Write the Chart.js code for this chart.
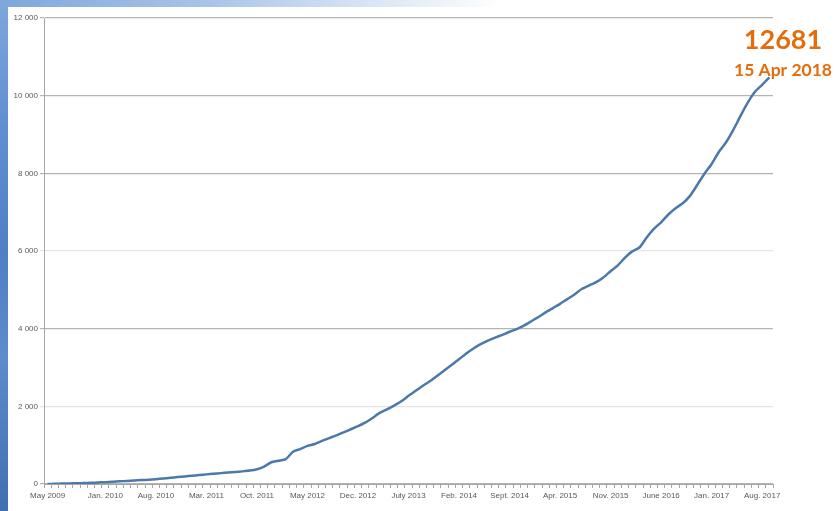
<!DOCTYPE html>
<html>
<head>
<meta charset="utf-8">
<script src="https://cdn.jsdelivr.net/npm/chart.js@4/dist/chart.umd.min.js"></script>
<style>
  html, body { margin: 0; padding: 0; }
  body { width: 837px; height: 511px; position: relative; overflow: hidden; background: #ffffff; }
  #leftStrip { position: absolute; left: 0; top: 0; width: 8px; height: 511px;
    background: linear-gradient(180deg, #7fa7dc 0%, #5f8fd0 25%, #4f80c4 50%, #5d8ccb 70%, #3f6fae 100%); }
  #topStrip { position: absolute; left: 0; top: 0; width: 837px; height: 7px;
    background: linear-gradient(90deg, #7fa7dc 0%, #a9c4e8 25%, #dbe6f5 45%, #ffffff 60%); }
  #chart { position: absolute; left: 0; top: 0; }
</style>
</head>
<body>
<div id="leftStrip"></div>
<div id="topStrip"></div>
<canvas id="chart" width="837" height="511"></canvas>
<script>
// Monthly categories, May 2009 to Sept. 2017
const categories = [
  'May 2009','June 2009','July 2009','Aug. 2009','Sept. 2009','Oct. 2009','Nov. 2009','Dec. 2009',
  'Jan. 2010','Feb. 2010','Mar. 2010','Apr. 2010','May 2010','June 2010','July 2010','Aug. 2010','Sept. 2010','Oct. 2010','Nov. 2010','Dec. 2010',
  'Jan. 2011','Feb. 2011','Mar. 2011','Apr. 2011','May 2011','June 2011','July 2011','Aug. 2011','Sept. 2011','Oct. 2011','Nov. 2011','Dec. 2011',
  'Jan. 2012','Feb. 2012','Mar. 2012','Apr. 2012','May 2012','June 2012','July 2012','Aug. 2012','Sept. 2012','Oct. 2012','Nov. 2012','Dec. 2012',
  'Jan. 2013','Feb. 2013','Mar. 2013','Apr. 2013','May 2013','June 2013','July 2013','Aug. 2013','Sept. 2013','Oct. 2013','Nov. 2013','Dec. 2013',
  'Jan. 2014','Feb. 2014','Mar. 2014','Apr. 2014','May 2014','June 2014','July 2014','Aug. 2014','Sept. 2014','Oct. 2014','Nov. 2014','Dec. 2014',
  'Jan. 2015','Feb. 2015','Mar. 2015','Apr. 2015','May 2015','June 2015','July 2015','Aug. 2015','Sept. 2015','Oct. 2015','Nov. 2015','Dec. 2015',
  'Jan. 2016','Feb. 2016','Mar. 2016','Apr. 2016','May 2016','June 2016','July 2016','Aug. 2016','Sept. 2016','Oct. 2016','Nov. 2016','Dec. 2016',
  'Jan. 2017','Feb. 2017','Mar. 2017','Apr. 2017','May 2017','June 2017','July 2017','Aug. 2017','Sept. 2017'
];

// Cumulative count
const cumulative = [
  0, 5, 10, 15, 20, 25, 30, 38,
  48, 58, 68, 80, 90, 100, 112, 125, 140, 160, 180, 195, 212, 230,
  248, 265, 280, 295, 310, 325, 345, 380, 450, 560, 600, 640, 830, 900,
  980, 1030, 1110, 1180, 1250, 1330, 1410, 1490, 1580, 1700, 1830, 1920,
  2020, 2130, 2270, 2400, 2530, 2650, 2790, 2930, 3070, 3210, 3360, 3490,
  3600, 3690, 3770, 3840, 3920, 3990, 4080, 4190, 4300, 4420, 4530, 4640,
  4760, 4880, 5020, 5110, 5200, 5320, 5480, 5630, 5830, 5990, 6090, 6350,
  6570, 6740, 6940, 7100, 7230, 7420, 7700, 7990, 8240, 8550, 8800, 9120,
  9480, 9820, 10100, 10280, 10470
];

// Category labels printed under the axis
const shownLabels = [
  'May 2009','Jan. 2010','Aug. 2010','Mar. 2011','Oct. 2011','May 2012','Dec. 2012',
  'July 2013','Feb. 2014','Sept. 2014','Apr. 2015','Nov. 2015','June 2016','Jan. 2017','Aug. 2017'
];

const yTicks = [0, 2000, 4000, 6000, 8000, 10000, 12000];
const lightGrid = [2000, 6000];

const annotationValue = '12681';
const annotationDate = '15 Apr 2018';

const annotationPlugin = {
  id: 'annotation',
  afterDraw(chart) {
    const ctx = chart.ctx;
    ctx.save();
    ctx.fillStyle = '#e46c0a';
    ctx.textAlign = 'center';
    ctx.textBaseline = 'middle';
    ctx.font = 'bold 27px Lato, "Open Sans", sans-serif';
    ctx.fillText(annotationValue, 783, 40);
    ctx.font = 'bold 17.5px Lato, "Open Sans", sans-serif';
    ctx.fillText(annotationDate, 783, 70);
    ctx.restore();
  }
};

new Chart(document.getElementById('chart'), {
  type: 'line',
  data: {
    labels: categories,
    datasets: [{
      data: cumulative,
      borderColor: '#4d79aa',
      borderWidth: 2.5,
      pointRadius: 0,
      tension: 0.2,
      fill: false
    }]
  },
  options: {
    responsive: false,
    animation: false,
    devicePixelRatio: 1,
    layout: { padding: { left: 8, right: 64, top: 18, bottom: 0 } },
    plugins: { legend: { display: false }, tooltip: { enabled: false } },
    scales: {
      x: {
        type: 'category',
        offset: true,
        afterFit(scale) { scale.height = 27; },
        grid: {
          display: true,
          drawOnChartArea: false,
          drawTicks: true,
          tickLength: 4,
          color: '#a6a6a6',
          offset: true
        },
        border: { display: true, color: '#a6a6a6', width: 1 },
        ticks: {
          autoSkip: false,
          maxRotation: 0,
          minRotation: 0,
          padding: 3,
          color: '#595959',
          font: { family: '"Liberation Sans", Arial, sans-serif', size: 8 },
          callback(value) {
            const lab = categories[value];
            return shownLabels.includes(lab) ? lab : '';
          }
        }
      },
      y: {
        min: 0,
        max: 12000,
        afterFit(scale) { scale.width = 36; },
        afterBuildTicks(scale) { scale.ticks = yTicks.map(v => ({ value: v })); },
        grid: {
          color(ctx) {
            const v = ctx.tick ? ctx.tick.value : 0;
            return lightGrid.includes(v) ? '#e4e4e4' : '#b4b4b4';
          },
          lineWidth: 1.2,
          tickLength: 4,
          drawTicks: true
        },
        border: { display: true, color: '#a6a6a6', width: 1 },
        ticks: {
          padding: 2,
          color: '#595959',
          font: { family: '"Liberation Sans", Arial, sans-serif', size: 8 },
          callback(value) {
            return String(value).replace(/\B(?=(\d{3})+(?!\d))/g, ' ');
          }
        }
      }
    }
  },
  plugins: [annotationPlugin]
});
</script>
</body>
</html>
